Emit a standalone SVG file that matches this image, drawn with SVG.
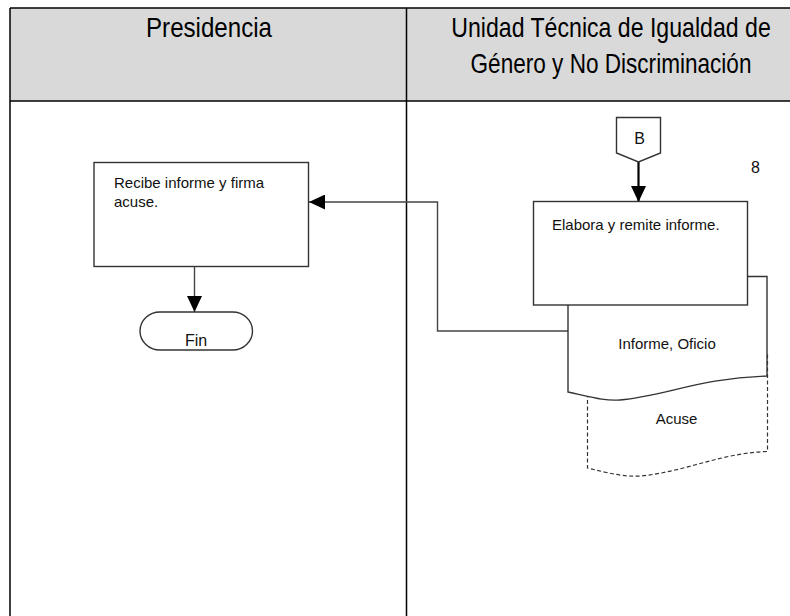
<svg xmlns="http://www.w3.org/2000/svg" width="790" height="616" viewBox="0 0 790 616">
  <style>
    .grid { stroke: #000; stroke-width: 1.5; fill: none; }
    .hdr { font-family: "Liberation Sans", Arial, sans-serif; font-size: 27px; fill: #000; text-anchor: middle; }
    .lbl { font-family: "Liberation Sans", Arial, sans-serif; font-size: 15px; fill: #111; }
    .big { font-size: 16px; }
    .mid { text-anchor: middle; }
    .box { fill: #fff; stroke: #333; stroke-width: 1.4; }
    .dash { fill: #fff; stroke: #333; stroke-width: 1.2; stroke-dasharray: 4 2.5; }
    .conn { fill: none; stroke: #444; stroke-width: 1.4; }
  </style>
  <defs>
    <marker id="arr" markerUnits="userSpaceOnUse" markerWidth="16" markerHeight="15" refX="16" refY="7.5" orient="auto">
      <path d="M0,0 L16,7.5 L0,15 Z" fill="#000"/>
    </marker>
  </defs>
  <rect width="790" height="616" fill="#fff"/>

  <g id="lanes">
    <rect x="10" y="8" width="790" height="93" fill="#d9d9d9"/>
    <line class="grid" x1="10" y1="8" x2="790" y2="8"/>
    <line class="grid" x1="10" y1="101" x2="790" y2="101"/>
    <line class="grid" x1="10" y1="8" x2="10" y2="616"/>
    <line class="grid" x1="406.5" y1="8" x2="406.5" y2="616"/>
    <text class="hdr" transform="translate(209,37) scale(0.893,1)">Presidencia</text>
    <text class="hdr" transform="translate(611,37) scale(0.856,1)">Unidad Técnica de Igualdad de</text>
    <text class="hdr" transform="translate(611,73) scale(0.836,1)">Género y No Discriminación</text>
  </g>

  <g id="connectors">
    <polyline class="conn" points="568,331 437.5,331 437.5,202 309,202" marker-end="url(#arr)"/>
    <line class="conn" x1="194.5" y1="267" x2="194.5" y2="312" marker-end="url(#arr)"/>
    <line x1="638.5" y1="162" x2="638.5" y2="202" stroke="#000" stroke-width="2.2" marker-end="url(#arr)"/>
  </g>

  <g id="doc-acuse">
    <path class="dash" d="M587.5,352.5 L767.5,352.5 L767.5,451.5 C720,453 685,472 640,476 C625,477 612,474 587.5,468 Z"/>
    <text class="lbl mid" x="676.5" y="424">Acuse</text>
  </g>

  <g id="doc-informe">
    <path class="box" d="M568,276.5 L767,276.5 L767,376 C700,378 665,396 620,400 C605,401 595,398 568,392 Z"/>
    <text class="lbl mid" x="667" y="349">Informe, Oficio</text>
  </g>

  <g id="elabora">
    <rect class="box" x="533.5" y="201.5" width="214" height="103.5"/>
    <text class="lbl" x="552" y="230">Elabora y remite informe.</text>
  </g>

  <g id="conector-b">
    <polygon class="box" points="616.5,117.5 660.5,117.5 660.5,153 638.5,162 616.5,153"/>
    <text class="lbl big mid" x="639.5" y="144">B</text>
  </g>

  <g id="paso-8">
    <text class="lbl big" x="751" y="173">8</text>
  </g>

  <g id="recibe">
    <rect class="box" x="94" y="162.5" width="214.5" height="104"/>
    <text class="lbl" x="114" y="188">Recibe informe y firma</text>
    <text class="lbl" x="114" y="206.5">acuse.</text>
  </g>

  <g id="fin">
    <rect class="box" x="140" y="312" width="112.5" height="38" rx="20" ry="19"/>
    <text class="lbl big mid" x="196" y="346">Fin</text>
  </g>
</svg>
